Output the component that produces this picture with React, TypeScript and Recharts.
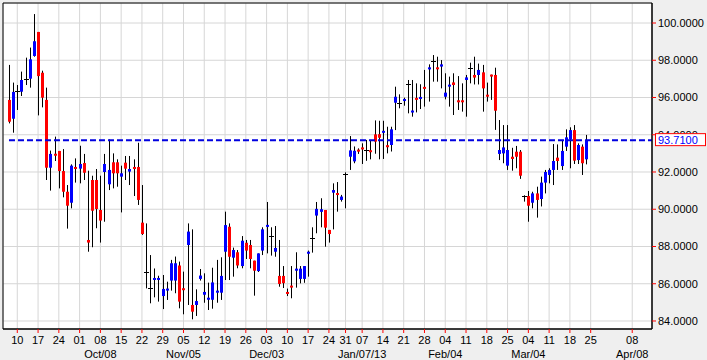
import { Bar, CartesianGrid, ComposedChart, ReferenceArea, ReferenceLine, XAxis, YAxis } from "recharts";

// slot 0 = Mon Sep 10 2012, one slot per trading day (Dec 25 / Jan 1 skipped)
const START_INDEX = -2;

const opens = [
  95.87, 94.86, 96.35, 96.31, 96.98, 97.01, 98.23, 99.52, 97.33, 95.87,
  92.23, 92.98, 93.13, 92.05, 90.94, 90.35, 92.27, 92.18, 92.48, 88.35,
  91.57, 91.57, 89.96, 92.0, 91.34, 92.52, 92.52, 91.75, 92.5, 92.02,
  92.27, 92.27, 89.28, 86.65, 85.75, 86.22, 86.22, 85.34, 85.7, 86.17,
  86.17, 86.98, 85.76, 88.08, 84.86, 84.86, 86.26, 85.41, 85.14, 85.14,
  85.52, 85.52, 87.72, 89.06, 87.4, 87.69, 86.95, 88.2, 88.08, 87.24,
  86.68, 87.78, 89.11, 88.56, 87.72, 86.42, 86.42, 85.56, 85.9, 86.7,
  86.26, 86.26, 87.61, 88.44, 89.66, 89.86, 89.96, 88.89, 90.89, 90.87,
  90.5, 91.87, 92.82, 92.57, 93.2, 93.32, 93.18, 93.17, 94.02, 94.03,
  94.16, 93.44, 93.45, 95.72, 95.72, 95.81, 96.71, 95.26, 95.98, 95.99,
  96.57, 97.51, 97.98, 97.62, 97.66, 96.04, 96.65, 96.81, 95.85, 95.85,
  96.94, 97.57, 97.21, 97.21, 97.35, 96.15, 97.23, 97.21, 92.97, 93.0,
  92.34, 92.82, 93.09, 93.09, 90.71, 90.71, 90.35, 90.85, 90.55, 91.43,
  91.84, 92.11, 92.77, 92.32, 93.36, 93.75, 94.25, 92.64, 93.36, 92.68,
];
const highs = [
  97.75, 96.8, 96.67, 97.39, 98.14, 98.68, 100.48, 99.52, 97.44, 96.53,
  93.15, 93.9, 93.13, 93.23, 91.3, 92.41, 92.73, 93.41, 92.97, 92.07,
  91.8, 92.16, 91.8, 92.97, 93.75, 93.0, 92.68, 92.34, 92.86, 92.86,
  92.68, 93.57, 91.3, 89.24, 87.54, 86.82, 86.43, 86.47, 86.11, 87.28,
  87.46, 87.19, 86.65, 89.24, 88.92, 85.7, 86.79, 86.56, 86.06, 86.86,
  87.28, 87.42, 89.87, 89.24, 87.94, 87.81, 88.56, 88.35, 88.35, 87.24,
  87.63, 89.03, 90.39, 89.03, 89.1, 88.35, 86.95, 85.74, 86.95, 87.69,
  86.95, 86.95, 87.78, 89.03, 90.39, 90.59, 89.96, 88.89, 91.39, 91.46,
  90.77, 91.98, 93.93, 93.37, 93.27, 93.54, 93.72, 93.72, 94.77, 94.75,
  94.75, 94.43, 94.43, 96.58, 96.17, 95.99, 96.94, 96.94, 96.76, 96.71,
  97.48, 97.78, 98.28, 98.19, 98.01, 97.3, 97.12, 97.3, 97.15, 96.76,
  97.21, 97.87, 98.19, 97.82, 97.75, 96.8, 97.23, 97.6, 94.79, 94.52,
  94.52, 93.3, 93.4, 93.18, 90.75, 90.98, 90.94, 91.21, 91.75, 92.11,
  92.2, 93.5, 93.48, 93.72, 94.29, 94.4, 94.52, 93.54, 93.48, 93.99,
];
const lows = [
  94.61, 94.11, 95.33, 96.08, 96.67, 96.53, 98.19, 95.04, 95.47, 91.57,
  91.0, 92.59, 91.12, 90.64, 88.96, 90.05, 91.43, 91.39, 91.57, 87.72,
  87.96, 88.98, 88.21, 89.33, 91.03, 91.12, 91.21, 89.83, 91.57, 91.3,
  90.71, 90.23, 88.62, 85.75, 84.95, 85.27, 85.04, 84.64, 85.13, 85.63,
  85.49, 84.68, 84.36, 84.86, 84.09, 84.27, 86.17, 84.98, 84.59, 84.66,
  84.98, 85.13, 86.2, 86.2, 86.38, 86.83, 86.83, 87.33, 86.83, 85.36,
  86.63, 87.54, 87.63, 87.51, 87.45, 85.84, 85.77, 85.34, 85.22, 85.79,
  86.02, 86.05, 86.38, 87.67, 88.71, 89.03, 87.99, 88.21, 88.92, 89.87,
  90.41, 90.05, 92.11, 92.47, 92.97, 92.43, 92.6, 92.68, 92.98, 92.68,
  92.7, 93.0, 93.1, 94.25, 95.42, 95.56, 95.15, 94.97, 95.2, 95.38,
  95.51, 95.78, 96.85, 96.85, 96.49, 95.9, 95.51, 95.06, 95.33, 95.24,
  94.97, 96.76, 96.7, 96.7, 95.24, 95.78, 95.87, 94.26, 92.64, 92.47,
  92.11, 92.07, 92.2, 91.63, 90.41, 89.33, 90.05, 89.55, 90.15, 90.85,
  91.39, 91.3, 92.11, 92.11, 93.13, 92.2, 92.43, 92.43, 91.84, 92.41,
];
const closes = [
  94.7, 96.3, 96.35, 96.94, 96.98, 98.05, 99.02, 97.15, 95.99, 92.23,
  92.97, 92.93, 92.05, 90.94, 90.19, 92.34, 92.23, 92.43, 91.96, 88.21,
  89.92, 90.01, 89.39, 92.43, 92.11, 91.93, 91.93, 91.93, 92.18, 92.16,
  92.16, 90.5, 88.67, 86.65, 85.75, 86.31, 86.31, 85.72, 85.74, 87.1,
  87.1, 85.04, 85.72, 88.8, 84.5, 85.07, 86.44, 85.56, 85.25, 86.07,
  85.63, 86.42, 89.15, 87.45, 87.81, 86.98, 88.31, 87.78, 87.33, 86.7,
  87.63, 88.92, 89.16, 88.56, 87.92, 85.99, 86.03, 85.52, 85.86, 86.81,
  86.81, 86.95, 87.72, 88.44, 90.02, 90.0, 89.01, 88.67, 91.03, 90.83,
  90.68, 91.87, 93.16, 93.14, 93.16, 93.23, 93.18, 93.12, 93.63, 93.84,
  94.21, 93.33, 94.29, 96.04, 95.72, 95.92, 96.71, 95.3, 95.94, 96.03,
  96.53, 97.62, 97.98, 97.55, 97.78, 96.26, 96.69, 96.67, 95.81, 95.81,
  97.08, 97.57, 97.07, 97.48, 96.49, 96.11, 97.19, 95.29, 93.18, 93.32,
  93.18, 92.7, 92.82, 91.8, 90.71, 90.19, 90.85, 90.5, 91.43, 92.0,
  92.11, 92.59, 92.59, 93.13, 93.86, 94.25, 92.61, 93.45, 92.47, 93.71,
];

const tickIndex = [0, 5, 10, 15, 20, 25, 30, 35, 40, 45, 50, 55, 60, 65, 70, 75, 79, 83, 88, 93, 98, 103, 108, 113, 118, 123, 128, 133, 138, 148];
const tickDay = ["10", "17", "24", "01", "08", "15", "22", "29", "05", "12", "19", "26", "03", "10", "17", "24", "31", "07", "14", "21", "28", "04", "11", "18", "25", "04", "11", "18", "25", "08"];
const tickMonth = ["", "", "", "", "Oct/08", "", "", "", "Nov/05", "", "", "", "Dec/03", "", "", "", "", "Jan/07/13", "", "", "", "Feb/04", "", "", "", "Mar/04", "", "", "", "Apr/08"];

const priceTicks = [84, 86, 88, 90, 92, 94, 96, 98, 100];
const lastPrice = 93.71;

const X_DOMAIN: [number, number] = [-3.44, 152.76];
const Y_DOMAIN: [number, number] = [83.57, 101.074];

const chartData = opens.map((open, k) => ({
  i: START_INDEX + k,
  open,
  high: highs[k],
  low: lows[k],
  close: closes[k],
  range: [lows[k], highs[k]],
}));

function Candle(props: any) {
  const { x, y, width, height, payload } = props;
  const { open, close, high, low } = payload;
  const cx = Math.round(x + width / 2) + 0.5;
  const span = high - low;
  const py = (v: number) => (span === 0 ? y : y + ((high - v) / span) * height);
  const top = py(Math.max(open, close));
  const bot = py(Math.min(open, close));
  let body;
  if (open === close) {
    body = <rect x={cx - 2.5} y={Math.round(top)} width={5} height={1} fill="#000" />;
  } else {
    const color = close > open ? "#0000ff" : "#ff0000";
    const h = Math.max(bot - top, 2);
    body = <rect x={cx - 1.5} y={top} width={3} height={h} fill={color} />;
  }
  return (
    <g>
      <line x1={cx} x2={cx} y1={y} y2={y + height} stroke="#000" strokeWidth={1} />
      {body}
    </g>
  );
}

function DateTick({ x, y, payload }: any) {
  const k = tickIndex.indexOf(payload.value);
  return (
    <g>
      <text x={x} y={y + 9} textAnchor="middle" fontSize={11} fill="#000">
        {tickDay[k]}
      </text>
      {tickMonth[k] ? (
        <text x={x} y={y + 23} textAnchor="middle" fontSize={11} fill="#000">
          {tickMonth[k]}
        </text>
      ) : null}
    </g>
  );
}

// drawn by a thin second axis so it sits on top of the price labels
function PriceTag({ x, y }: any) {
  const bx = x - 51;
  return (
    <g>
      <rect x={bx + 0.5} y={y - 6.5} width={50} height={12} fill="#ffffff" stroke="#ff0000" />
      <text x={bx + 3} y={y + 4} fontSize={11} fill="#0000ff">
        {lastPrice.toFixed(4)}
      </text>
    </g>
  );
}

export default function App() {
  return (
    <div
      style={{
        position: "absolute",
        left: 0,
        top: 0,
        width: 707,
        height: 360,
        background: "#efefef",
        fontFamily: "'Liberation Sans', Arial, sans-serif",
      }}
    >
      <ComposedChart width={707} height={360} data={chartData} margin={{ top: 3, right: 0, bottom: 0, left: 3 }}>
        <CartesianGrid stroke="#d6d6d6" fill="#ffffff" />
        <XAxis
          dataKey="i"
          type="number"
          domain={X_DOMAIN}
          allowDataOverflow
          ticks={tickIndex}
          interval={0}
          height={31}
          tick={<DateTick />}
          tickSize={4}
          tickMargin={2}
          tickLine={{ stroke: "#ff0000" }}
          axisLine={{ stroke: "#000000" }}
        />
        <YAxis
          orientation="right"
          type="number"
          domain={Y_DOMAIN}
          allowDataOverflow
          ticks={priceTicks}
          interval={0}
          width={54}
          tickSize={4}
          tickMargin={2}
          tick={{ fontSize: 11, fill: "#000000" }}
          tickLine={{ stroke: "#ff0000" }}
          axisLine={{ stroke: "#000000" }}
          tickFormatter={(v: number) => v.toFixed(4)}
        />
        <YAxis
          yAxisId="tag"
          orientation="right"
          type="number"
          domain={Y_DOMAIN}
          allowDataOverflow
          ticks={[lastPrice]}
          interval={0}
          width={1}
          tickSize={0}
          tickMargin={0}
          tickLine={false}
          axisLine={false}
          tick={<PriceTag />}
        />
        <ReferenceArea
          x1={X_DOMAIN[0]}
          x2={X_DOMAIN[1]}
          y1={Y_DOMAIN[0]}
          y2={Y_DOMAIN[1]}
          fill="none"
          stroke="#000000"
          ifOverflow="visible"
        />
        <Bar dataKey="range" barSize={4} shape={Candle} isAnimationActive={false} />
        <ReferenceLine
          segment={[
            { x: START_INDEX, y: lastPrice },
            { x: X_DOMAIN[1], y: lastPrice },
          ]}
          stroke="#0000e0"
          strokeWidth={2}
          strokeDasharray="6 3"
          ifOverflow="visible"
        />
      </ComposedChart>
    </div>
  );
}
